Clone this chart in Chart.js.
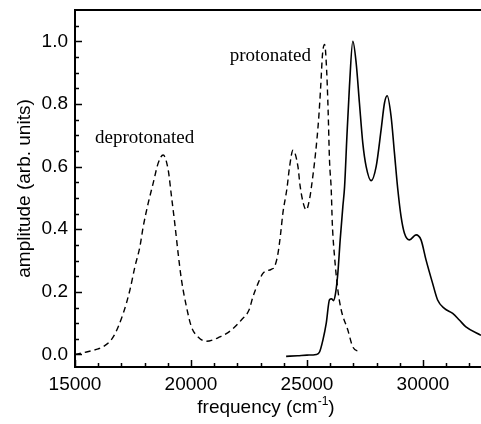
<!DOCTYPE html>
<html>
<head>
<meta charset="utf-8">
<script src="https://cdn.jsdelivr.net/npm/chart.js@4.4.0/dist/chart.umd.min.js"></script>
<style>
  html, body { margin: 0; padding: 0; background: #fff; }
  #wrap { width: 481px; height: 424px; }
</style>
</head>
<body>
<div id="wrap"><canvas id="spectra" width="481" height="424"></canvas></div>
<script>
// ---- data ----
const xTicks = [15000, 20000, 25000, 30000];
const yTicks = [0.0, 0.2, 0.4, 0.6, 0.8, 1.0];

// dashed trace: deprotonated band + protonated band
const dashFreq = [15000, 15500, 16000, 16218, 16648, 17078, 17367, 17582, 17797, 17940, 18155, 18370,
  18585, 18800, 19015, 19160, 19300, 19445, 19590, 19805, 20020, 20305, 20665, 21240, 21740, 22170,
  22500, 22670, 22890, 23100, 23460, 23600, 23750, 23865, 23960, 24135, 24250, 24395, 24610, 24700,
  24850, 24970, 25120, 25200, 25370, 25500, 25590, 25670, 25760, 25845, 25910, 25970, 26045, 26090,
  26190, 26330, 26475, 26760, 26975, 27260];
const dashAmp = [0.0, 0.008, 0.018, 0.025, 0.056, 0.131, 0.206, 0.28, 0.344, 0.408, 0.483, 0.547,
  0.611, 0.637, 0.59, 0.504, 0.419, 0.323, 0.238, 0.152, 0.088, 0.056, 0.042, 0.056, 0.078, 0.11,
  0.142, 0.184, 0.227, 0.259, 0.272, 0.28, 0.323, 0.387, 0.451, 0.53, 0.60, 0.652, 0.60, 0.54,
  0.48, 0.462, 0.50, 0.54, 0.644, 0.75, 0.855, 0.96, 0.99, 0.91, 0.78, 0.62, 0.526, 0.42,
  0.31, 0.206, 0.142, 0.078, 0.024, 0.008];

// solid trace
const solidFreq = [24100, 24600, 25000, 25400, 25540, 25685, 25830, 25970, 26060, 26140, 26230, 26330,
  26430, 26545, 26620, 26720, 26830, 26975, 27120, 27260, 27405, 27550, 27765, 27980, 28195, 28340,
  28455, 28625, 28770, 28910, 29055, 29200, 29415, 29700, 29915, 30130, 30415, 30630, 30920, 31280,
  31565, 31850, 32500];
const solidAmp = [-0.006, -0.004, -0.002, 0.0, 0.008, 0.046, 0.10, 0.175, 0.178, 0.172, 0.195, 0.26,
  0.366, 0.472, 0.536, 0.696, 0.856, 1.0, 0.93, 0.803, 0.675, 0.60, 0.555, 0.60, 0.718, 0.803,
  0.826, 0.76, 0.643, 0.53, 0.44, 0.387, 0.366, 0.382, 0.366, 0.302, 0.227, 0.174, 0.147, 0.131,
  0.11, 0.088, 0.061];

// labels placed in data coordinates (left edge, baseline)
const notes = [
  { text: 'deprotonated', x: 15860, y: 0.676 },
  { text: 'protonated', x: 21670, y: 0.936 }
];

const toPoints = (xs, ys) => xs.map((x, i) => ({ x: x, y: ys[i] }));

const sansFont = "'Liberation Sans', Arial, sans-serif";
const serifFont = "'Liberation Serif', 'Times New Roman', serif";

// ---- frame, inward ticks, annotations, x title ----
const framePlugin = {
  id: 'frame',
  afterDraw(chart) {
    const { ctx, chartArea: a, scales: { x, y } } = chart;
    ctx.save();
    ctx.strokeStyle = '#000';
    ctx.lineWidth = 2;
    ctx.beginPath();
    ctx.moveTo(a.right + 2, a.top);
    ctx.lineTo(a.left, a.top);
    ctx.lineTo(a.left, a.bottom);
    ctx.lineTo(a.right + 2, a.bottom);
    ctx.stroke();

    ctx.lineWidth = 1.5;
    ctx.beginPath();
    for (let v = 15000; v <= 32000; v += 1000) {
      const px = Math.round(x.getPixelForValue(v)) + 0.5;
      const len = xTicks.includes(v) ? 7 : 4;
      ctx.moveTo(px, a.bottom);
      ctx.lineTo(px, a.bottom - len);
    }
    for (let k = 0; k <= 21; k++) {
      const v = k * 0.05;
      const py = Math.round(y.getPixelForValue(v)) + 0.5;
      const len = k % 4 === 0 ? 7 : 4;
      ctx.moveTo(a.left, py);
      ctx.lineTo(a.left + len, py);
    }
    ctx.stroke();

    // annotations
    ctx.fillStyle = '#000';
    ctx.font = '19px ' + serifFont;
    ctx.textAlign = 'left';
    ctx.textBaseline = 'alphabetic';
    notes.forEach(n => {
      ctx.fillText(n.text, x.getPixelForValue(n.x), y.getPixelForValue(n.y));
    });

    // x axis title with superscript
    const main = 'frequency (cm';
    const sup = '-1';
    const tail = ')';
    ctx.font = '19px ' + sansFont;
    const w1 = ctx.measureText(main).width;
    const w3 = ctx.measureText(tail).width;
    ctx.font = '12px ' + sansFont;
    const w2 = ctx.measureText(sup).width;
    const total = w1 + w2 + w3;
    let sx = (a.left + a.right) / 2 - 12 - total / 2;
    const base = 413;
    ctx.font = '19px ' + sansFont;
    ctx.fillText(main, sx, base);
    ctx.font = '12px ' + sansFont;
    ctx.fillText(sup, sx + w1, base - 8);
    ctx.font = '19px ' + sansFont;
    ctx.fillText(tail, sx + w1 + w2, base);
    ctx.restore();
  }
};

new Chart(document.getElementById('spectra'), {
  type: 'line',
  data: {
    datasets: [
      {
        label: 'dashed',
        data: toPoints(dashFreq, dashAmp),
        borderColor: '#000',
        borderWidth: 1.4,
        borderDash: [6, 4],
        pointRadius: 0,
        cubicInterpolationMode: 'monotone',
        fill: false
      },
      {
        label: 'solid',
        data: toPoints(solidFreq, solidAmp),
        borderColor: '#000',
        borderWidth: 1.6,
        pointRadius: 0,
        cubicInterpolationMode: 'monotone',
        fill: false
      }
    ]
  },
  options: {
    responsive: false,
    animation: false,
    layout: { padding: { top: 10, right: 0, left: 0, bottom: 0 } },
    plugins: {
      legend: { display: false },
      tooltip: { enabled: false }
    },
    scales: {
      x: {
        type: 'linear',
        min: 15000,
        max: 32500,
        grid: { display: false, drawTicks: false },
        border: { display: false },
        afterBuildTicks: s => { s.ticks = xTicks.map(v => ({ value: v })); },
        afterFit: s => { s.height = 57; s.paddingLeft = 0; s.paddingRight = 0; },
        ticks: {
          color: '#000',
          padding: 6,
          maxRotation: 0,
          font: { family: sansFont, size: 19 },
          callback: v => String(v)
        }
      },
      y: {
        type: 'linear',
        min: -0.04,
        max: 1.1,
        grid: { display: false, drawTicks: false },
        border: { display: false },
        afterBuildTicks: s => { s.ticks = yTicks.map(v => ({ value: v })); },
        afterFit: s => { s.width = 75; s.paddingTop = 0; s.paddingBottom = 0; },
        ticks: {
          color: '#000',
          padding: 7,
          font: { family: sansFont, size: 19 },
          callback: v => Number(v).toFixed(1)
        },
        title: {
          display: true,
          text: 'amplitude (arb. units)',
          color: '#000',
          font: { family: sansFont, size: 19 },
          padding: { top: 13, bottom: 0 }
        }
      }
    }
  },
  plugins: [framePlugin]
});
</script>
</body>
</html>
